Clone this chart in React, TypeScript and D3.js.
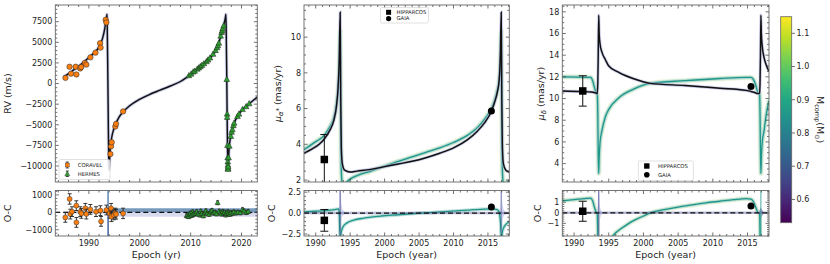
import React from "react";
import * as d3 from "d3";

// ---------------- DATA ----------------
// Left: RV model (year, m/s)
const rvModel: [number, number][] = [
  [1985.0, 800], [1986.0, 1200], [1987.0, 1650], [1988.0, 2100], [1989.0, 2600], [1990.0, 3150],
  [1991.0, 3700], [1992.0, 4450], [1992.7, 5500], [1993.1, 6600], [1993.35, 7600], [1993.5, 8150],
  [1993.57, 8400], [1993.63, 6000], [1993.73, 500], [1993.83, -5500], [1993.91, -9500], [1993.96, -10500],
  [1994.03, -9800], [1994.1, -8800], [1994.25, -7600], [1994.5, -6500], [1994.85, -5600], [1995.2, -5000],
  [1995.9, -4100], [1996.8, -3400], [1998.0, -2700], [2000.0, -1900], [2002.0, -1300], [2004.0, -800],
  [2006.0, -300], [2008.0, 250], [2009.0, 650], [2010.0, 1100], [2011.0, 1600], [2012.0, 2100],
  [2013.0, 2600], [2014.0, 3200], [2015.0, 4100], [2015.5, 4800], [2016.0, 6000], [2016.4, 6900],
  [2016.7, 7600], [2016.85, 8100], [2016.93, 8400], [2017.0, 6000], [2017.1, 500], [2017.2, -5500],
  [2017.28, -9500], [2017.33, -10500], [2017.4, -9800], [2017.47, -8800], [2017.6, -7600], [2017.85, -6500],
  [2018.2, -5600], [2018.5, -4900], [2019.2, -4000], [2020.1, -3200], [2021.1, -2700], [2022.0, -2200],
  [2023.1, -1650],
];
const coravelRV: [number, number][] = [
  [1985.4, 690], [1986.2, 2036], [1986.5, 1200], [1987.4, 2036], [1987.55, 1100], [1988.3, 1832],
  [1988.5, 2000], [1989.2, 2500], [1989.5, 2300], [1990.3, 3176], [1991.3, 3746], [1992.2, 4886],
  [1992.3, 4357], [1993.3, 7736], [1993.44, 7410], [1994.23, -8550], [1994.36, -7614], [1994.49, -7125],
  [1995.2, -5212], [1995.34, -4886], [1996.72, -3380],
];
const hermesRV: [number, number][] = [
  [2009.65, 950], [2010.1, 1150], [2010.5, 1400], [2010.8, 1500], [2011.3, 1750], [2011.6, 1900],
  [2011.9, 2050], [2012.2, 2200], [2012.6, 2400], [2013.1, 2650], [2013.4, 2850], [2013.8, 3100],
  [2014.4, 3550], [2014.9, 4000], [2015.2, 4350], [2015.36, 4600], [2015.55, 4900], [2015.9, 5750],
  [2016.1, 6200], [2016.2, 6400], [2016.3, 6650], [2016.5, 7000], [2017.1, 500], [2017.17, -3700],
  [2017.18, -4100], [2017.24, -7500], [2017.28, -9000], [2017.3, -9500], [2017.31, -9900], [2017.33, -10300],
  [2017.35, -10400], [2017.37, -10100], [2017.45, -9000], [2017.6, -7600], [2017.9, -6400], [2018.05, -5900],
  [2018.2, -5600], [2018.4, -5100], [2018.55, -4800], [2019.2, -4000], [2019.5, -3700], [2020.2, -3150],
  [2020.9, -2800], [2021.5, -2450],
];
// O-C (year, residual, error)
const coravelOC: [number, number, number][] = [
  [1985.37, -290, 280], [1986.22, 770, 300], [1986.35, -100, 280], [1986.68, 40, 280], [1987.53, 385, 280],
  [1987.55, -580, 280], [1988.32, 40, 280], [1988.52, -60, 280], [1989.3, 230, 280], [1989.5, -100, 280],
  [1990.29, 170, 280], [1991.4, 40, 280], [1992.26, 100, 280], [1992.39, -520, 280], [1993.44, 135, 280],
  [1994.1, -60, 280], [1994.36, 230, 280], [1994.43, -250, 280], [1994.88, -150, 280], [1995.2, -40, 280],
  [1995.34, -110, 280], [1996.72, -60, 300],
];
const hermesOC: [number, number, number][] = [
  [2009.2, -200, 110], [2009.4, -150, 110], [2009.6, -250, 110], [2009.8, -100, 110], [2010.0, -50, 110],
  [2010.2, -180, 110], [2010.4, 20, 110], [2010.6, -120, 110], [2010.9, -60, 110], [2011.2, 30, 110],
  [2011.5, -100, 110], [2011.8, -150, 110], [2012.0, 60, 110], [2012.2, -80, 110], [2012.5, -200, 110],
  [2012.8, -40, 110], [2013.0, 80, 110], [2013.3, -60, 110], [2013.6, -120, 110], [2013.9, 20, 110],
  [2014.2, 100, 110], [2014.5, -50, 110], [2014.8, 0, 110], [2015.1, -90, 110], [2015.3, 550, 110],
  [2015.6, 60, 110], [2015.9, -30, 110], [2016.1, -100, 110], [2016.3, 40, 110], [2016.5, -60, 110],
  [2016.7, 0, 110], [2016.9, -150, 110], [2017.1, -80, 110], [2017.3, 30, 110], [2017.5, -50, 110],
  [2017.7, -120, 110], [2017.9, -20, 110], [2018.2, -60, 110], [2018.5, 20, 110], [2018.9, -40, 110],
  [2019.3, 0, 110], [2019.8, -30, 110], [2020.2, 150, 110], [2020.5, 70, 110], [2020.9, -20, 110],
  [2021.3, 40, 110],
];
// O-C model bands (year, low, high)
const rvOcBandLeft: [number, number, number][] = [[1985.0, -60, 60], [1993.6, -80, 80]];
const rvOcBandSteel: [number, number, number][] = [[1993.9, 0, 230], [2023.1, 0, 230]];
const rvOcBandLav: [number, number, number][] = [[1993.9, -250, 0], [2023.1, -250, 0]];
const rvOcSpikeSteel: [number, number, number][] = [[1993.6, -1400, 1300], [1993.95, -1400, 1300]];
const rvOcSpikeDark: [number, number, number][] = [[1993.72, -1400, 0], [1993.84, -1400, 0]];

// Middle: mu_alpha* (year, mas/yr)
const pmraBest: [number, number][] = [
  [1988.3, 3.5], [1989.5, 3.75], [1990.5, 4.0], [1991.25, 4.3], [1992.0, 4.75], [1992.6, 5.3],
  [1993.0, 6.1], [1993.25, 7.2], [1993.42, 8.8], [1993.55, 11.4], [1993.63, 6.5], [1993.72, 3.8],
  [1993.87, 2.9], [1994.2, 2.55], [1995.0, 2.45], [1996.0, 2.5], [1998.0, 2.6], [2000.0, 2.75],
  [2002.0, 2.9], [2004.0, 3.05], [2006.0, 3.25], [2008.0, 3.5], [2010.0, 3.8], [2012.0, 4.25],
  [2013.5, 4.75], [2014.5, 5.2], [2015.5, 5.85], [2016.0, 6.4], [2016.35, 6.9], [2016.63, 7.6],
  [2016.8, 9.0], [2016.93, 11.4], [2017.01, 6.5], [2017.1, 3.8], [2017.25, 2.9], [2017.6, 2.55],
  [2018.1, 2.45],
];
const pmraHeavy: [number, number][] = [
  [1988.3, 3.7], [1990.0, 4.15], [1991.25, 4.5], [1992.0, 4.95], [1992.6, 5.45], [1993.0, 6.2],
  [1993.25, 7.1], [1993.42, 8.4], [1993.55, 10.3], [1993.63, 5.0], [1993.72, 2.5], [1993.85, 1.8],
  [1994.05, 1.72], [1994.4, 1.85], [1995.0, 2.05], [1996.0, 2.25], [1998.0, 2.5], [2000.0, 2.78],
  [2002.0, 3.05], [2004.0, 3.3], [2006.0, 3.55], [2008.0, 3.8], [2010.0, 4.1], [2012.0, 4.5],
  [2013.5, 4.95], [2014.5, 5.4], [2015.5, 6.0], [2016.0, 6.5], [2016.35, 7.0], [2016.63, 7.6],
  [2016.8, 8.7], [2016.93, 10.3], [2017.01, 5.0], [2017.1, 2.5], [2017.23, 1.8], [2017.43, 1.72],
  [2017.78, 1.85], [2018.1, 2.0],
];
const pmraOcA: [number, number][] = [[1988.3, 0.15], [1990, 0.22], [1991.5, 0.3], [1992.5, 0.38], [1993.0, 0.45], [1993.3, 0.5], [1993.42, 0.0], [1993.5, -2.9]];
const pmraOcB: [number, number][] = [
  [1993.6, -2.9], [1993.72, -2.2], [1994.0, -1.6], [1994.5, -1.2], [1995.5, -0.85], [1997, -0.6],
  [1999.5, -0.35], [2002, -0.2], [2004.3, -0.05], [2007, 0.08], [2009.2, 0.2], [2012, 0.35], [2014, 0.45],
  [2015.5, 0.5], [2016.2, 0.45], [2016.6, 0.2], [2016.75, -0.5], [2016.85, -1.5], [2016.9, -2.9],
];
const pmraOcC: [number, number][] = [[2016.98, -2.9], [2017.1, -2.2], [2017.38, -1.6], [2017.8, -1.2], [2018.1, -1.0]];
const pmraSpike1: [number, number, number][] = [[1993.2, -0.1, 0.15], [1993.4, -0.6, 0.8], [1993.5, -2.9, 2.9], [1993.62, -2.9, 2.9], [1993.75, -0.8, 1.0], [1994.0, -0.2, 0.3], [1994.4, -0.05, 0.1]];
const pmraSpike2: [number, number, number][] = [[2016.6, -0.1, 0.15], [2016.8, -0.6, 0.8], [2016.88, -2.9, 2.9], [2017.0, -2.9, 2.9], [2017.13, -0.8, 1.0], [2017.4, -0.2, 0.3], [2017.8, -0.05, 0.1]];

// Right: mu_delta (year, mas/yr)
const pmdecBest: [number, number][] = [
  [1988.3, 10.7], [1991.0, 10.65], [1992.5, 10.6], [1993.2, 10.5], [1993.35, 10.45], [1993.42, 11.5],
  [1993.48, 14.0], [1993.55, 17.7], [1993.62, 16.0], [1993.75, 15.0], [1994.0, 14.3], [1994.5, 13.6],
  [1995.0, 13.0], [1996.5, 12.4], [1998.5, 11.85], [2001, 11.4], [2006, 11.2], [2011, 10.95],
  [2014.8, 10.75], [2015.8, 10.6], [2016.6, 10.45], [2016.75, 10.5], [2016.81, 11.5], [2016.87, 14.0],
  [2016.93, 17.7], [2017.0, 16.0], [2017.13, 14.8], [2017.38, 13.8], [2017.7, 13.1], [2018.1, 12.5],
];
const pmdecHeavy: [number, number][] = [
  [1988.3, 12.0], [1992.4, 11.95], [1992.7, 11.6], [1992.95, 11.0], [1993.15, 10.6], [1993.35, 10.35],
  [1993.42, 8.5], [1993.48, 5.0], [1993.55, 3.1], [1993.62, 4.6], [1993.75, 6.0], [1994.0, 7.0],
  [1994.5, 8.3], [1995.0, 9.0], [1996.5, 10.1], [1998.5, 10.85], [2001, 11.4], [2006, 11.65],
  [2011, 11.85], [2014.8, 11.95], [2015.5, 11.95], [2015.9, 11.7], [2016.2, 11.2], [2016.45, 10.6],
  [2016.75, 10.35], [2016.81, 8.5], [2016.87, 5.0], [2016.93, 3.1], [2017.0, 4.6], [2017.13, 6.0],
  [2017.38, 7.0], [2017.7, 8.5], [2018.1, 9.8],
];
const pmdecOcA: [number, number][] = [[1988.3, 1.15], [1990, 1.25], [1991.5, 1.35], [1992.4, 1.4], [1992.7, 1.1], [1992.95, 0.5], [1993.15, 0.1], [1993.35, -0.1], [1993.42, -2.4]];
const pmdecOcB: [number, number][] = [
  [1995.3, -2.4], [1996, -1.9], [1997, -1.4], [1998, -0.95], [1999, -0.6], [2000, -0.3], [2001, 0.0],
  [2003, 0.3], [2005, 0.55], [2007, 0.75], [2009, 0.95], [2011, 1.1], [2013, 1.25], [2014.8, 1.35],
  [2015.5, 1.3], [2015.9, 1.0], [2016.2, 0.5], [2016.45, 0.1], [2016.75, -0.1], [2016.81, -2.4],
];
const pmdecSpike1: [number, number, number][] = [[1993.2, -0.1, 0.1], [1993.4, -0.8, 0.8], [1993.5, -2.4, 2.3], [1993.6, -2.4, 2.3], [1993.7, -0.8, 0.8], [1994.0, -0.1, 0.1]];
const pmdecSpike2: [number, number, number][] = [[2016.6, -0.1, 0.1], [2016.85, -0.5, 0.4], [2016.93, -0.7, 0.5], [2017.0, -0.5, 0.4], [2017.3, -0.1, 0.1]];

// Absolute astrometry: [year, value, error]
const hipPmra: [number, number, number] = [1991.25, 3.15, 1.4];
const gaiaPmra: [number, number, number] = [2015.5, 5.87, 0.05];
const hipPmraOC: [number, number, number] = [1991.25, -0.87, 1.3];
const gaiaPmraOC: [number, number, number] = [2015.5, 0.72, 0.05];
const hipPmdec: [number, number, number] = [1991.25, 10.7, 1.4];
const gaiaPmdec: [number, number, number] = [2015.5, 11.12, 0.05];
const hipPmdecOC: [number, number, number] = [1991.25, 0.15, 0.95];
const gaiaPmdecOC: [number, number, number] = [2015.5, 0.65, 0.05];

// Ticks
const rvTicks = [-10000, -7500, -5000, -2500, 0, 2500, 5000, 7500];
const rvOcTicks = [-1000, 0, 1000];
const leftYearTicks = [1990, 2000, 2010, 2020];
const pmYearTicks = [1990, 1995, 2000, 2005, 2010, 2015];
const pmraTicks = [2, 4, 6, 8, 10];
const pmraOcTicks = [-2.5, 0, 2.5];
const pmdecTicks = [4, 6, 8, 10, 12, 14, 16, 18];
const pmdecOcTicks = [-1, 0, 1];
const cbTicks = [0.6, 0.7, 0.8, 0.9, 1.0, 1.1];

// ---------------- LAYOUT ----------------
const FONT = "DejaVu Sans, sans-serif";
const TOP = 5, TOPB = 182, BOT0 = 190.5, BOT1 = 236;
const PL = [55.3, 257.3], PM = [304, 509.3], PR = [562.3, 769];

const xL = d3.scaleLinear().domain([1983.4, 2023.1]).range(PL);
const yLt = d3.scaleLinear().domain([-11940, 9525]).range([TOPB, TOP]);
const yLb = d3.scaleLinear().domain([-1360, 1255]).range([BOT1, BOT0]);
const xM = d3.scaleLinear().domain([1988.3, 2018.1]).range(PM);
const yMt = d3.scaleLinear().domain([1.89, 11.8]).range([TOPB, TOP]);
const yMb = d3.scaleLinear().domain([-2.74, 2.7]).range([BOT1, BOT0]);
const xR = d3.scaleLinear().domain([1988.3, 2018.1]).range(PR);
const yRt = d3.scaleLinear().domain([2.3, 18.63]).range([TOPB, TOP]);
const yRb = d3.scaleLinear().domain([-2.2, 2.12]).range([BOT1, BOT0]);
const cbScale = d3.scaleLinear().domain([0.53, 1.15]).range([222.7, 16.7]);

const minus = (s: string) => s.replace("-", "\u2212");
const fInt = (v: number) => minus(String(v));
const f1 = (v: number) => minus(v.toFixed(1));

function minorTicks(scale: any, step: number, majors: number[]) {
  const [a, b] = scale.domain().slice().sort((p: number, q: number) => p - q);
  const out: number[] = [];
  const start = Math.ceil(a / step) * step;
  for (let v = start; v <= b + 1e-9; v += step) {
    const r = Math.round(v * 1000) / 1000;
    if (!majors.some((m) => Math.abs(m - r) < 1e-6)) out.push(r);
  }
  return out;
}

function Frame({ x, y, xMajor, xMinorStep, yMajor, yMinorStep, xFmt, yFmt }: any) {
  const [x0, x1] = x.range();
  const [yb, yt] = y.range();
  const xMin = minorTicks(x, xMinorStep, xMajor);
  const yMin = minorTicks(y, yMinorStep, yMajor);
  const st = { stroke: "#333", strokeWidth: 0.7 };
  const xin = xMajor.filter((v: number) => x(v) >= x0 - 0.1 && x(v) <= x1 + 0.1);
  const yin = yMajor.filter((v: number) => y(v) <= yb + 0.1 && y(v) >= yt - 0.1);
  return (
    <g>
      {xin.map((v: number) => (
        <g key={"xM" + v}>
          <line x1={x(v)} x2={x(v)} y1={yb} y2={yb - 3.5} {...st} />
          <line x1={x(v)} x2={x(v)} y1={yt} y2={yt + 3.5} {...st} />
        </g>
      ))}
      {xMin.map((v: number) => (
        <g key={"xm" + v}>
          <line x1={x(v)} x2={x(v)} y1={yb} y2={yb - 2} {...st} />
          <line x1={x(v)} x2={x(v)} y1={yt} y2={yt + 2} {...st} />
        </g>
      ))}
      {yin.map((v: number) => (
        <g key={"yM" + v}>
          <line x1={x0} x2={x0 + 3.5} y1={y(v)} y2={y(v)} {...st} />
          <line x1={x1} x2={x1 - 3.5} y1={y(v)} y2={y(v)} {...st} />
        </g>
      ))}
      {yMin.map((v: number) => (
        <g key={"ym" + v}>
          <line x1={x0} x2={x0 + 2} y1={y(v)} y2={y(v)} {...st} />
          <line x1={x1} x2={x1 - 2} y1={y(v)} y2={y(v)} {...st} />
        </g>
      ))}
      <rect x={x0} y={yt} width={x1 - x0} height={yb - yt} fill="none" stroke="#666" strokeWidth={0.9} />
      {xFmt &&
        xin.map((v: number) => (
          <text key={"xl" + v} x={x(v)} y={yb + 9.5} textAnchor="middle" fontSize={8} fill="#222">
            {xFmt(v)}
          </text>
        ))}
      {yin.map((v: number) => (
        <text key={"yl" + v} x={x0 - 3} y={y(v)} dy="0.35em" textAnchor="end" fontSize={8} fill="#222">
          {yFmt(v)}
        </text>
      ))}
    </g>
  );
}

function lineOf(x: any, y: any, d: [number, number][]) {
  return d3.line<[number, number]>().x((p) => x(p[0])).y((p) => y(p[1])).curve(d3.curveMonotoneX)(d) || "";
}
function areaOf(x: any, y: any, d: [number, number, number][]) {
  return (
    d3
      .area<[number, number, number]>()
      .x((p) => x(p[0]))
      .y0((p) => y(p[1]))
      .y1((p) => y(p[2]))
      .curve(d3.curveMonotoneX)(d) || ""
  );
}

const TEAL = d3.interpolateViridis(0.52);
const TEAL_LIGHT = "#9fd2c8";
const LIME = "#cfe6b0";
const NAVY_HALO = "#4b4f96";
const LAV = "#c8cbea";
const STEEL = "#5e88b0";

function ModelPair({ x, y, best, heavy }: any) {
  return (
    <g>
      <path d={lineOf(x, y, heavy)} fill="none" stroke={LIME} strokeWidth={5.5} strokeOpacity={0.35} />
      <path d={lineOf(x, y, heavy)} fill="none" stroke={TEAL_LIGHT} strokeWidth={3.5} strokeOpacity={0.75} />
      <path d={lineOf(x, y, heavy)} fill="none" stroke={TEAL} strokeWidth={1.3} />
      <path d={lineOf(x, y, best)} fill="none" stroke={LAV} strokeWidth={3.5} strokeOpacity={0.5} />
      <path d={lineOf(x, y, best)} fill="none" stroke={NAVY_HALO} strokeWidth={2.2} strokeOpacity={0.3} />
      <path d={lineOf(x, y, best)} fill="none" stroke="#111" strokeWidth={1.4} />
    </g>
  );
}

function ErrPoint({ x, y, p, marker, size, capW }: any) {
  const cx = x(p[0]);
  const cy = y(p[1]);
  const ya = y(p[1] - p[2]);
  const yb = y(p[1] + p[2]);
  return (
    <g>
      <line x1={cx} x2={cx} y1={ya} y2={yb} stroke="#111" strokeWidth={1} />
      <line x1={cx - capW} x2={cx + capW} y1={ya} y2={ya} stroke="#111" strokeWidth={1} />
      <line x1={cx - capW} x2={cx + capW} y1={yb} y2={yb} stroke="#111" strokeWidth={1} />
      {marker === "square" ? (
        <rect x={cx - size / 2} y={cy - size / 2} width={size} height={size} fill="#000" />
      ) : (
        <circle cx={cx} cy={cy} r={size / 2} fill="#000" />
      )}
    </g>
  );
}

const ORANGE = "#ff7f0e";
const GREEN = "#2ca02c";

function triPath(cx: number, cy: number, s: number) {
  return `M${cx},${cy - s * 0.62}L${cx + s * 0.55},${cy + s * 0.4}L${cx - s * 0.55},${cy + s * 0.4}Z`;
}

export default function App() {
  const vir = d3.range(0, 1.0001, 0.1).map((t) => ({ t, c: d3.interpolateViridis(t) }));
  const clip = (id: string, x: any, y: any) => {
    const [x0, x1] = x.range();
    const [yb, yt] = y.range();
    return (
      <clipPath id={id}>
        <rect x={x0} y={yt} width={x1 - x0} height={yb - yt} />
      </clipPath>
    );
  };
  return (
    <svg width={830} height={264} viewBox="0 0 830 264" style={{ display: "block", position: "absolute", left: 0, top: 0 }} fontFamily={FONT}>
      <defs>
        {clip("cLt", xL, yLt)}
        {clip("cLb", xL, yLb)}
        {clip("cMt", xM, yMt)}
        {clip("cMb", xM, yMb)}
        {clip("cRt", xR, yRt)}
        {clip("cRb", xR, yRb)}
        <linearGradient id="vir" x1="0" y1="1" x2="0" y2="0">
          {vir.map((s) => (
            <stop key={s.t} offset={s.t} stopColor={s.c} />
          ))}
        </linearGradient>
      </defs>
      <rect width={830} height={264} fill="#fff" />

      {/* ---------- LEFT TOP: RV ---------- */}
      <g clipPath="url(#cLt)">
        <path d={lineOf(xL, yLt, rvModel)} fill="none" stroke={LAV} strokeWidth={3.6} strokeOpacity={0.6} />
        <path d={lineOf(xL, yLt, rvModel)} fill="none" stroke={NAVY_HALO} strokeWidth={2.3} strokeOpacity={0.3} />
        <path d={lineOf(xL, yLt, rvModel)} fill="none" stroke="#111" strokeWidth={1.4} />
        {coravelRV.map((p, i) => (
          <g key={"cr" + i}>
            <line x1={xL(p[0]) - 2} x2={xL(p[0]) + 2} y1={yLt(p[1])} y2={yLt(p[1])} stroke="#222" strokeWidth={0.8} />
            <circle cx={xL(p[0])} cy={yLt(p[1])} r={2.7} fill={ORANGE} stroke="#333" strokeWidth={0.6} />
          </g>
        ))}
        {hermesRV.map((p, i) => (
          <path key={"hr" + i} d={triPath(xL(p[0]), yLt(p[1]), 5.2)} fill={GREEN} stroke="#222" strokeWidth={0.5} />
        ))}
      </g>
      <Frame x={xL} y={yLt} xMajor={leftYearTicks} xMinorStep={2} yMajor={rvTicks} yMinorStep={500} yFmt={fInt} />
      <g fontSize={5.3} fill="#222">
        <rect x={59} y={159.5} width={51} height={20} rx={1.5} fill="#fff" fillOpacity={0.85} stroke="#ccc" strokeWidth={0.6} />
        <line x1={67.3} x2={67.3} y1={162} y2={168} stroke="#222" strokeWidth={0.8} />
        <line x1={65.8} x2={68.8} y1={162} y2={162} stroke="#222" strokeWidth={0.8} />
        <line x1={65.8} x2={68.8} y1={168} y2={168} stroke="#222" strokeWidth={0.8} />
        <rect x={65.3} y={163} width={4} height={4} fill={ORANGE} stroke="#333" strokeWidth={0.4} />
        <text x={77.7} y={165} dy="0.35em">CORAVEL</text>
        <line x1={67.3} x2={67.3} y1={171} y2={176.5} stroke="#222" strokeWidth={0.8} />
        <line x1={65.8} x2={68.8} y1={171} y2={171} stroke="#222" strokeWidth={0.8} />
        <line x1={65.8} x2={68.8} y1={176.5} y2={176.5} stroke="#222" strokeWidth={0.8} />
        <path d={triPath(67.3, 174, 4.6)} fill={GREEN} stroke="#333" strokeWidth={0.4} />
        <text x={77.7} y={174} dy="0.35em">HERMES</text>
      </g>

      {/* ---------- LEFT BOTTOM: RV O-C ---------- */}
      <g clipPath="url(#cLb)">
        <path d={areaOf(xL, yLb, rvOcBandLeft)} fill={LAV} fillOpacity={0.7} />
        <path d={areaOf(xL, yLb, rvOcBandLav)} fill={LAV} fillOpacity={0.7} />
        <path d={areaOf(xL, yLb, rvOcBandSteel)} fill={STEEL} fillOpacity={0.85} />
        <path d={areaOf(xL, yLb, rvOcSpikeSteel)} fill={STEEL} fillOpacity={0.85} />
        <path d={areaOf(xL, yLb, rvOcSpikeDark)} fill="#3b3f8f" fillOpacity={0.9} />
        <line x1={PL[0]} x2={PL[1]} y1={yLb(0)} y2={yLb(0)} stroke="#111" strokeWidth={1.3} strokeDasharray="5,3" />
        {coravelOC.map((p, i) => {
          const cx = xL(p[0]);
          return (
            <g key={"co" + i}>
              <line x1={cx} x2={cx} y1={yLb(p[1] - p[2])} y2={yLb(p[1] + p[2])} stroke="#222" strokeWidth={0.9} />
              <line x1={cx - 2} x2={cx + 2} y1={yLb(p[1] - p[2])} y2={yLb(p[1] - p[2])} stroke="#222" strokeWidth={0.9} />
              <line x1={cx - 2} x2={cx + 2} y1={yLb(p[1] + p[2])} y2={yLb(p[1] + p[2])} stroke="#222" strokeWidth={0.9} />
              <circle cx={cx} cy={yLb(p[1])} r={2.5} fill={ORANGE} stroke="#333" strokeWidth={0.5} />
            </g>
          );
        })}
        {hermesOC.map((p, i) => {
          const cx = xL(p[0]);
          return (
            <g key={"ho" + i}>
              <line x1={cx} x2={cx} y1={yLb(p[1] - p[2])} y2={yLb(p[1] + p[2])} stroke="#111" strokeWidth={0.8} />
              <line x1={cx - 1.5} x2={cx + 1.5} y1={yLb(p[1] - p[2])} y2={yLb(p[1] - p[2])} stroke="#111" strokeWidth={0.8} />
              <line x1={cx - 1.5} x2={cx + 1.5} y1={yLb(p[1] + p[2])} y2={yLb(p[1] + p[2])} stroke="#111" strokeWidth={0.8} />
              <path d={triPath(cx, yLb(p[1]), 4.6)} fill={GREEN} stroke="#222" strokeWidth={0.5} />
            </g>
          );
        })}
      </g>
      <Frame x={xL} y={yLb} xMajor={leftYearTicks} xMinorStep={2} yMajor={rvOcTicks} yMinorStep={200} xFmt={fInt} yFmt={fInt} />

      {/* ---------- MIDDLE TOP: pmra ---------- */}
      <g clipPath="url(#cMt)">
        <ModelPair x={xM} y={yMt} best={pmraBest} heavy={pmraHeavy} />
        <ErrPoint x={xM} y={yMt} p={hipPmra} marker="square" size={7.5} capW={4} />
        <ErrPoint x={xM} y={yMt} p={gaiaPmra} marker="circle" size={7} capW={0} />
      </g>
      <Frame x={xM} y={yMt} xMajor={pmYearTicks} xMinorStep={1} yMajor={pmraTicks} yMinorStep={0.5} yFmt={fInt} />
      <g fontSize={5.3} fill="#222">
        <rect x={380.5} y={7.5} width={48} height={15.5} rx={1.5} fill="#fff" fillOpacity={0.85} stroke="#ccc" strokeWidth={0.6} />
        <rect x={386.1} y={9.8} width={5} height={5} fill="#000" />
        <text x={396.5} y={12.3} dy="0.35em">HIPPARCOS</text>
        <circle cx={388.6} cy={18.6} r={2.6} fill="#000" />
        <text x={396.5} y={18.6} dy="0.35em">GAIA</text>
      </g>

      {/* ---------- MIDDLE BOTTOM: pmra O-C ---------- */}
      <g clipPath="url(#cMb)">
        <path d={areaOf(xM, yMb, pmraSpike1)} fill={LAV} fillOpacity={0.8} />
        <path d={areaOf(xM, yMb, pmraSpike2)} fill={LAV} fillOpacity={0.8} />
        {[pmraOcA, pmraOcB, pmraOcC].map((seg, i) => (
          <g key={"mo" + i}>
            <path d={lineOf(xM, yMb, seg)} fill="none" stroke={TEAL_LIGHT} strokeWidth={3.5} strokeOpacity={0.7} />
            <path d={lineOf(xM, yMb, seg)} fill="none" stroke={TEAL} strokeWidth={1.3} />
          </g>
        ))}
        <line x1={xM(1993.55)} x2={xM(1993.55)} y1={BOT0} y2={BOT1} stroke="#4b4f96" strokeWidth={1.2} strokeOpacity={0.7} />
        <line x1={xM(2016.93)} x2={xM(2016.93)} y1={BOT0} y2={BOT1} stroke="#4b4f96" strokeWidth={1.2} strokeOpacity={0.5} />
        <line x1={PM[0]} x2={PM[1]} y1={yMb(0)} y2={yMb(0)} stroke={NAVY_HALO} strokeWidth={2.5} strokeOpacity={0.4} />
        <line x1={PM[0]} x2={PM[1]} y1={yMb(0)} y2={yMb(0)} stroke="#111" strokeWidth={1.3} strokeDasharray="5,3" />
        <ErrPoint x={xM} y={yMb} p={hipPmraOC} marker="square" size={7.5} capW={4} />
        <ErrPoint x={xM} y={yMb} p={gaiaPmraOC} marker="circle" size={7} capW={0} />
      </g>
      <Frame x={xM} y={yMb} xMajor={pmYearTicks} xMinorStep={1} yMajor={pmraOcTicks} yMinorStep={0.5} xFmt={fInt} yFmt={f1} />

      {/* ---------- RIGHT TOP: pmdec ---------- */}
      <g clipPath="url(#cRt)">
        <ModelPair x={xR} y={yRt} best={pmdecBest} heavy={pmdecHeavy} />
        <ErrPoint x={xR} y={yRt} p={hipPmdec} marker="square" size={7.5} capW={4} />
        <ErrPoint x={xR} y={yRt} p={gaiaPmdec} marker="circle" size={7} capW={0} />
      </g>
      <Frame x={xR} y={yRt} xMajor={pmYearTicks} xMinorStep={1} yMajor={pmdecTicks} yMinorStep={0.5} yFmt={fInt} />
      <g fontSize={5.3} fill="#222">
        <rect x={638.4} y={161} width={55} height={19.5} rx={1.5} fill="#fff" fillOpacity={0.85} stroke="#ccc" strokeWidth={0.6} />
        <rect x={644.1} y={163.3} width={5.4} height={5.4} fill="#000" />
        <text x={658} y={166} dy="0.35em">HIPPARCOS</text>
        <circle cx={646.8} cy={174.8} r={2.8} fill="#000" />
        <text x={658} y={174.8} dy="0.35em">GAIA</text>
      </g>

      {/* ---------- RIGHT BOTTOM: pmdec O-C ---------- */}
      <g clipPath="url(#cRb)">
        <path d={areaOf(xR, yRb, pmdecSpike1)} fill={LAV} fillOpacity={0.8} />
        <path d={areaOf(xR, yRb, pmdecSpike2)} fill="#6b63a8" fillOpacity={0.6} />
        {[pmdecOcA, pmdecOcB].map((seg, i) => (
          <g key={"ro" + i}>
            <path d={lineOf(xR, yRb, seg)} fill="none" stroke={LIME} strokeWidth={5} strokeOpacity={0.4} />
            <path d={lineOf(xR, yRb, seg)} fill="none" stroke={TEAL_LIGHT} strokeWidth={3.2} strokeOpacity={0.7} />
            <path d={lineOf(xR, yRb, seg)} fill="none" stroke={TEAL} strokeWidth={1.3} />
          </g>
        ))}
        <line x1={xR(1993.55)} x2={xR(1993.55)} y1={BOT0} y2={BOT1} stroke="#4b4f96" strokeWidth={1.2} strokeOpacity={0.7} />
        <line x1={xR(2016.93)} x2={xR(2016.93)} y1={BOT0} y2={BOT1} stroke={TEAL} strokeWidth={1} strokeOpacity={0.8} />
        <line x1={PR[0]} x2={PR[1]} y1={yRb(0)} y2={yRb(0)} stroke={NAVY_HALO} strokeWidth={2.5} strokeOpacity={0.4} />
        <line x1={PR[0]} x2={PR[1]} y1={yRb(0)} y2={yRb(0)} stroke="#111" strokeWidth={1.3} strokeDasharray="5,3" />
        <ErrPoint x={xR} y={yRb} p={hipPmdecOC} marker="square" size={7.5} capW={4} />
        <ErrPoint x={xR} y={yRb} p={gaiaPmdecOC} marker="circle" size={7} capW={0} />
      </g>
      <Frame x={xR} y={yRb} xMajor={pmYearTicks} xMinorStep={1} yMajor={pmdecOcTicks} yMinorStep={0.2} xFmt={fInt} yFmt={fInt} />

      {/* ---------- AXIS LABELS ---------- */}
      <g fontSize={9.5} fill="#222">
        <text transform={`translate(11,${(TOP + TOPB) / 2}) rotate(-90)`} textAnchor="middle">RV (m/s)</text>
        <text transform={`translate(11,${(BOT0 + BOT1) / 2}) rotate(-90)`} textAnchor="middle">O-C</text>
        <text x={(PL[0] + PL[1]) / 2} y={258} textAnchor="middle">Epoch (yr)</text>

        <text transform={`translate(281,${(TOP + TOPB) / 2}) rotate(-90)`} textAnchor="middle">
          <tspan fontStyle="italic">μ</tspan>
          <tspan fontSize={6.8} dy={2} fontStyle="italic">α</tspan>
          <tspan fontSize={6.8} dy={-2}>*</tspan>
          <tspan> (mas/yr)</tspan>
        </text>
        <text transform={`translate(275,${(BOT0 + BOT1) / 2}) rotate(-90)`} textAnchor="middle">O-C</text>
        <text x={(PM[0] + PM[1]) / 2} y={258} textAnchor="middle">Epoch (year)</text>

        <text transform={`translate(544,${(TOP + TOPB) / 2}) rotate(-90)`} textAnchor="middle">
          <tspan fontStyle="italic">μ</tspan>
          <tspan fontSize={6.8} dy={2} fontStyle="italic">δ</tspan>
          <tspan dy={-2}> (mas/yr)</tspan>
        </text>
        <text transform={`translate(541,${(BOT0 + BOT1) / 2}) rotate(-90)`} textAnchor="middle">O-C</text>
        <text x={(PR[0] + PR[1]) / 2} y={258} textAnchor="middle">Epoch (year)</text>
      </g>

      {/* ---------- COLORBAR ---------- */}
      <rect x={780.7} y={cbScale(1.15)} width={11} height={cbScale(0.53) - cbScale(1.15)} fill="url(#vir)" stroke="#666" strokeWidth={0.8} />
      {cbTicks.map((v) => (
        <g key={"cb" + v}>
          <line x1={791.7} x2={795} y1={cbScale(v)} y2={cbScale(v)} stroke="#333" strokeWidth={0.7} />
          <text x={796.5} y={cbScale(v)} dy="0.35em" fontSize={8} fill="#222">{v.toFixed(1)}</text>
        </g>
      ))}
      <text transform={`translate(817,${cbScale(0.84)}) rotate(90)`} textAnchor="middle" fontSize={9.5} fill="#222">
        <tspan>M</tspan>
        <tspan fontSize={6.5} dy={2}>comp</tspan>
        <tspan dy={-2}>(M</tspan>
        <tspan fontSize={6.5} dy={2}>⊙</tspan>
        <tspan dy={-2}>)</tspan>
      </text>
    </svg>
  );
}
